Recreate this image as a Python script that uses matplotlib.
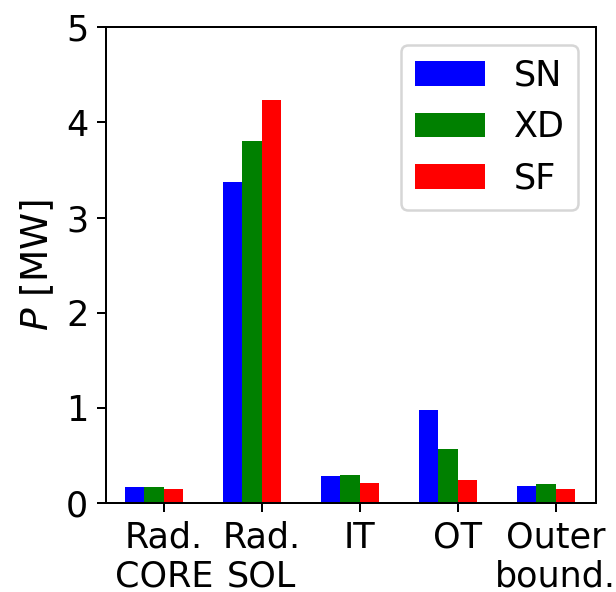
import numpy as np
import matplotlib.pyplot as plt

# Power deposited per region for the three divertor configurations
regions = ['Rad.\nCORE', 'Rad.\nSOL', 'IT', 'OT', 'Outer\nbound.']
sn = [0.165, 3.37, 0.28, 0.98, 0.18]
xd = [0.165, 3.80, 0.295, 0.565, 0.20]
sf = [0.147, 4.24, 0.21, 0.245, 0.147]
labels = ['SN', 'XD', 'SF']
colors = ['blue', 'green', 'red']

plt.rcParams['font.size'] = 14

fig = plt.figure(figsize=(616 / 180, 592 / 180), dpi=180)
ax = fig.add_axes([0.172, 0.1503, 0.7955, 0.8037])

x = np.arange(len(regions))
w = 0.2
for i, (vals, lab, col) in enumerate(zip([sn, xd, sf], labels, colors)):
    ax.bar(x - 0.3 + i * w, vals, w, color=col, label=lab)

ax.set_xticks(x)
ax.set_xticklabels(regions)
ax.set_xlim(-0.59, 4.41)
ax.set_ylim(0, 5)
ax.set_yticks([0, 1, 2, 3, 4, 5])
ax.set_ylabel('$P$ [MW]', fontsize=15)
ax.legend(loc='upper right')

fig.savefig('out.png', dpi=180)
